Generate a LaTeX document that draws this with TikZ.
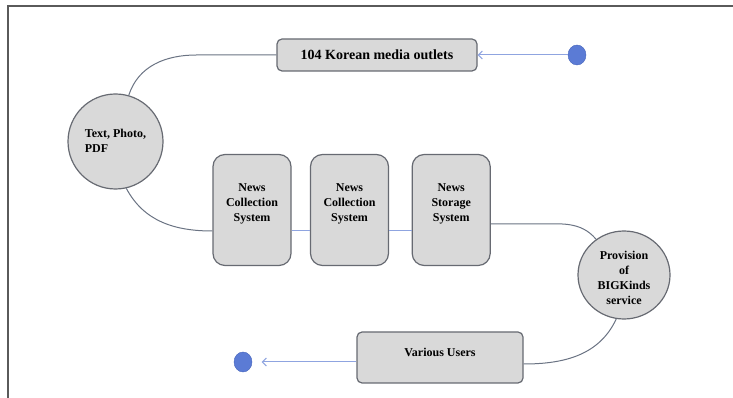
\documentclass[tikz,border=0pt]{standalone}
\usepackage{fontspec}
\setmainfont{Liberation Serif}
\usetikzlibrary{arrows.meta,shapes.geometric}
\definecolor{boxfill}{HTML}{D9D9D9}
\definecolor{boxline}{HTML}{676A72}
\definecolor{curveline}{HTML}{6A7383}
\definecolor{linkblue}{HTML}{8FA4E0}
\definecolor{dotfill}{HTML}{5B7BD5}
\definecolor{dotline}{HTML}{4866BC}
\definecolor{framegray}{HTML}{5A5A5A}
\begin{document}
\begin{tikzpicture}[x=1pt,y=1pt,
  lbl/.style={font=\fontsize{12}{15}\selectfont\bfseries, align=center, inner sep=0pt},
  biglbl/.style={font=\fontsize{14}{16}\selectfont\bfseries, align=center, inner sep=0pt},
  rbox/.style={draw=boxline, fill=boxfill, line width=1.2pt, rounded corners=5pt, inner sep=0pt},
  tallbox/.style={rbox, rounded corners=12pt, minimum width=78pt, minimum height=111pt},
  bubble/.style={draw=boxline, fill=boxfill, line width=1.2pt, ellipse, inner sep=0pt},
  dotnode/.style={draw=dotline, fill=dotfill, ellipse, minimum width=18pt, minimum height=20pt, inner sep=0pt},
  curve/.style={draw=curveline, line width=1pt},
  link/.style={draw=linkblue, line width=1pt},
  blarrow/.style={link, -{Straight Barb[length=4pt,width=8pt]}}
]
\useasboundingbox (0,0) rectangle (733,398);
\draw[framegray, line width=1.5pt] (8,0) -- (8,392) -- (733,392);

% nodes
\node[rbox, biglbl, minimum width=200pt, minimum height=32pt] (top) at (377,343) {104 Korean media outlets};
\node[dotnode] (dot1) at (577,343) {};

\node[bubble, minimum width=95pt, minimum height=95pt] (textc) at (115.5,256.5) {};
\node[lbl, align=left] (textct) at ([yshift=1pt]textc.center) {Text, Photo,\\PDF};

\node[tallbox] (b1) at (252,188) {};
\node[lbl] (b1t) at ([yshift=6pt]b1.center) {News\\Collection\\System};
\node[tallbox] (b2) at (349.5,188) {};
\node[lbl] (b2t) at ([yshift=6pt]b2.center) {News\\Collection\\System};
\node[tallbox] (b3) at (451.2,188) {};
\node[lbl] (b3t) at ([yshift=6pt]b3.center) {News\\Storage\\System};

\node[bubble, minimum width=92pt, minimum height=88pt] (prov) at (624,123) {};
\node[lbl] (provt) at ([yshift=-3pt]prov.center) {Provision\\of\\BIGKinds\\service};

\node[rbox, minimum width=166pt, minimum height=51pt] (users) at (440,40.5) {};
\node[lbl] (userst) at ([yshift=5.5pt]users.center) {Various Users};
\node[dotnode] (dot2) at (243,36) {};

% connectors
\draw[blarrow] (dot1.west) -- (top.east);
\draw[curve] (top.west) -- ([xshift=-80pt]top.west) to[out=180,in=72] (textc.74);
\draw[curve] (textc.-77) to[out=-62,in=180] ([yshift=-21pt]b1.west);
\draw[link] ([yshift=-21pt]b1.east) -- ([yshift=-21pt]b2.west);
\draw[link] ([yshift=-21pt]b2.east) -- ([yshift=-21pt]b3.west);
\draw[curve] ([yshift=-14pt]b3.east) -- ([xshift=45pt,yshift=-14pt]b3.east) to[out=0,in=130] (prov.128);
\draw[curve] (prov.-100) to[out=-115,in=0] ([yshift=-6.5pt]users.east);
\draw[blarrow, shorten >=9.5pt] ([yshift=-4.5pt]users.west) -- (dot2);
\end{tikzpicture}
\end{document}
